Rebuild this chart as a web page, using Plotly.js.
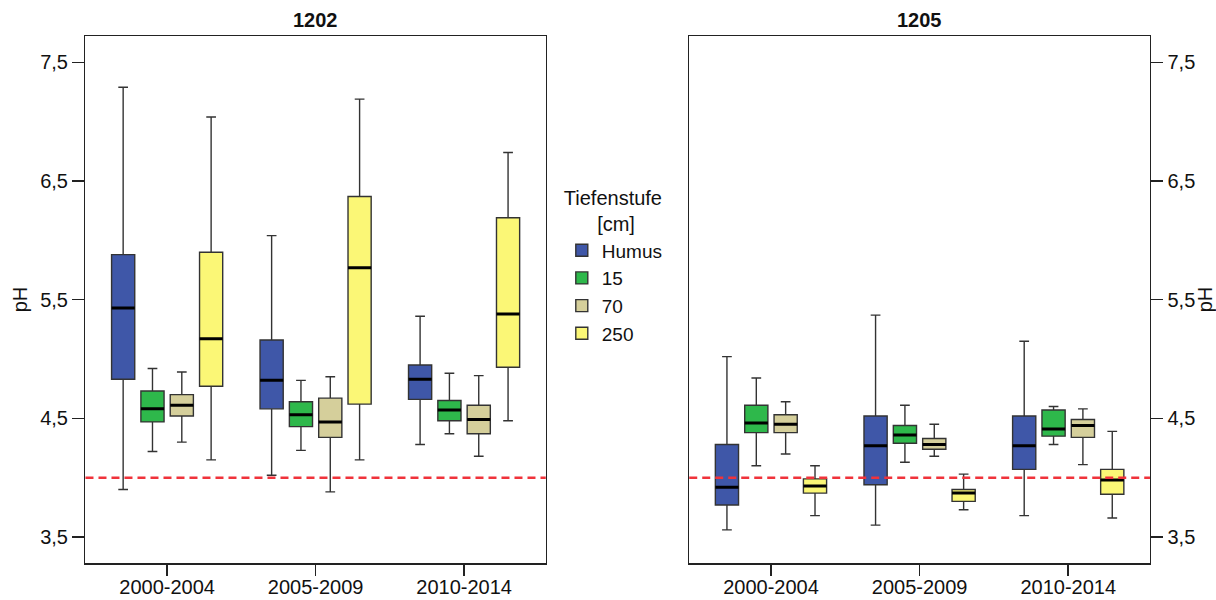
<!DOCTYPE html>
<html><head><meta charset="utf-8">
<script src="https://cdn.plot.ly/plotly-3.0.1.min.js"></script>
<style>html,body{margin:0;padding:0;background:#fff}#chart{width:1216px;height:600px}</style>
</head><body><div id="chart"></div>
<script>
// ---- data ----
const categories = ['2000-2004', '2005-2009', '2010-2014'];
const depths = ['Humus', '15', '70', '250'];
const sites = ['1202', '1205'];
const yTicks = [3.5, 4.5, 5.5, 6.5, 7.5];
const threshold = 4.0;

// rows: Humus, 15, 70, 250 ; columns: periods
const lower1202 = [[3.90, 4.02, 4.28], [4.22, 4.23, 4.37], [4.30, 3.88, 4.18], [4.15, 4.15, 4.48]];
const q1_1202   = [[4.83, 4.58, 4.66], [4.47, 4.43, 4.48], [4.52, 4.34, 4.37], [4.77, 4.62, 4.93]];
const med1202   = [[5.43, 4.82, 4.83], [4.58, 4.53, 4.57], [4.61, 4.47, 4.49], [5.17, 5.77, 5.38]];
const q3_1202   = [[5.88, 5.16, 4.95], [4.73, 4.64, 4.65], [4.70, 4.67, 4.61], [5.90, 6.37, 6.19]];
const upper1202 = [[7.29, 6.04, 5.36], [4.92, 4.82, 4.88], [4.89, 4.85, 4.86], [7.04, 7.19, 6.74]];

const lower1205 = [[3.56, 3.60, 3.68], [4.10, 4.13, 4.28], [4.20, 4.18, 4.11], [3.68, 3.73, 3.66]];
const q1_1205   = [[3.77, 3.94, 4.07], [4.38, 4.29, 4.35], [4.38, 4.24, 4.34], [3.87, 3.80, 3.86]];
const med1205   = [[3.92, 4.27, 4.27], [4.46, 4.36, 4.41], [4.45, 4.28, 4.44], [3.93, 3.87, 3.98]];
const q3_1205   = [[4.28, 4.52, 4.52], [4.61, 4.44, 4.57], [4.53, 4.33, 4.49], [3.99, 3.90, 4.07]];
const upper1205 = [[5.02, 5.37, 5.15], [4.84, 4.61, 4.60], [4.64, 4.45, 4.58], [4.10, 4.03, 4.39]];

const colors = ['#3f57a8', '#2eb84b', '#d5cf9b', '#fbf776'];

const stats = [
  {lower: lower1202, q1: q1_1202, med: med1202, q3: q3_1202, upper: upper1202},
  {lower: lower1205, q1: q1_1205, med: med1205, q3: q3_1205, upper: upper1205}
];

const traces = [];
sites.forEach((site, si) => {
  const xa = si === 0 ? 'x' : 'x2';
  const ya = si === 0 ? 'y' : 'y2';
  const s = stats[si];
  depths.forEach((d, di) => {
    traces.push({
      type: 'box', name: d, x: categories,
      q1: s.q1[di], median: s.med[di], q3: s.q3[di],
      lowerfence: s.lower[di], upperfence: s.upper[di],
      xaxis: xa, yaxis: ya, offsetgroup: d, legendgroup: d,
      showlegend: si === 0,
      fillcolor: colors[di],
      line: {color: '#333333', width: 1.4},
      whiskerwidth: 0.42, boxpoints: false, hoverinfo: 'skip'
    });
  });
  // thick median lines
  depths.forEach((d, di) => {
    const m = s.med[di];
    traces.push({
      type: 'box', name: d, x: categories,
      q1: m, median: m, q3: m, lowerfence: m, upperfence: m,
      xaxis: xa, yaxis: ya, offsetgroup: d, legendgroup: d,
      showlegend: false,
      fillcolor: 'rgba(0,0,0,0)',
      line: {color: '#000000', width: 3},
      whiskerwidth: 0, boxpoints: false, hoverinfo: 'skip'
    });
  });
});

const axisCommon = {
  showline: true, mirror: true, linecolor: '#222', linewidth: 1.5,
  ticks: 'outside', tickwidth: 1.5, tickcolor: '#222',
  showgrid: false, zeroline: false, fixedrange: true, automargin: false,
  tickfont: {size: 20, color: '#111'}
};

const layout = {
  width: 1216, height: 600,
  margin: {l: 0, r: 0, t: 36, b: 37, pad: 0},
  paper_bgcolor: '#ffffff', plot_bgcolor: '#ffffff',
  font: {family: '"Liberation Sans", Arial, sans-serif', size: 20, color: '#111'},
  separators: ',.',
  boxmode: 'group', boxgap: 0.21, boxgroupgap: 0.21,
  showlegend: true,
  legend: {
    x: 0.462, y: 0.728, xanchor: 'left', yanchor: 'top',
    title: {text: 'Tiefenstufe<br>&nbsp;&nbsp;&nbsp;&nbsp;&nbsp;&nbsp;[cm]', side: 'top', font: {size: 20}},
    font: {size: 19}, tracegroupgap: 0, bgcolor: 'rgba(0,0,0,0)'
  },
  xaxis: Object.assign({}, axisCommon, {
    domain: [0.0703, 0.4488], range: [-0.55, 2.55], type: 'category',
    ticklen: 11, anchor: 'y', ticklabelstandoff: -6
  }),
  yaxis: Object.assign({}, axisCommon, {
    domain: [0, 1], range: [3.281, 7.722], tickvals: yTicks, tickformat: '.1f',
    ticklen: 12, anchor: 'x', title: {text: 'pH', font: {size: 20}, standoff: 7}
  }),
  xaxis2: Object.assign({}, axisCommon, {
    domain: [0.5668, 0.9457], range: [-0.55, 2.55], type: 'category',
    ticklen: 11, anchor: 'y2', ticklabelstandoff: -6
  }),
  yaxis2: Object.assign({}, axisCommon, {
    domain: [0, 1], range: [3.281, 7.722], tickvals: yTicks, tickformat: '.1f',
    ticklen: 12, anchor: 'x2', side: 'right', title: {text: 'pH', font: {size: 20}}
  }),
  annotations: sites.map((site, si) => ({
    text: '<b>' + site + '</b>', xref: (si === 0 ? 'x' : 'x2') + ' domain', x: 0.5,
    yref: 'paper', y: 1, yanchor: 'bottom', yshift: 3, showarrow: false,
    font: {size: 20, color: '#111'}
  })),
  shapes: ['y', 'y2'].map((ya, i) => ({
    type: 'line', xref: (i === 0 ? 'x' : 'x2') + ' domain', x0: 0, x1: 1,
    yref: ya, y0: threshold, y1: threshold,
    line: {color: '#f0333b', width: 2.5, dash: '8px,5px'}, layer: 'above'
  }))
};

Plotly.newPlot('chart', traces, layout, {displayModeBar: false, staticPlot: true});
</script>
</body></html>
